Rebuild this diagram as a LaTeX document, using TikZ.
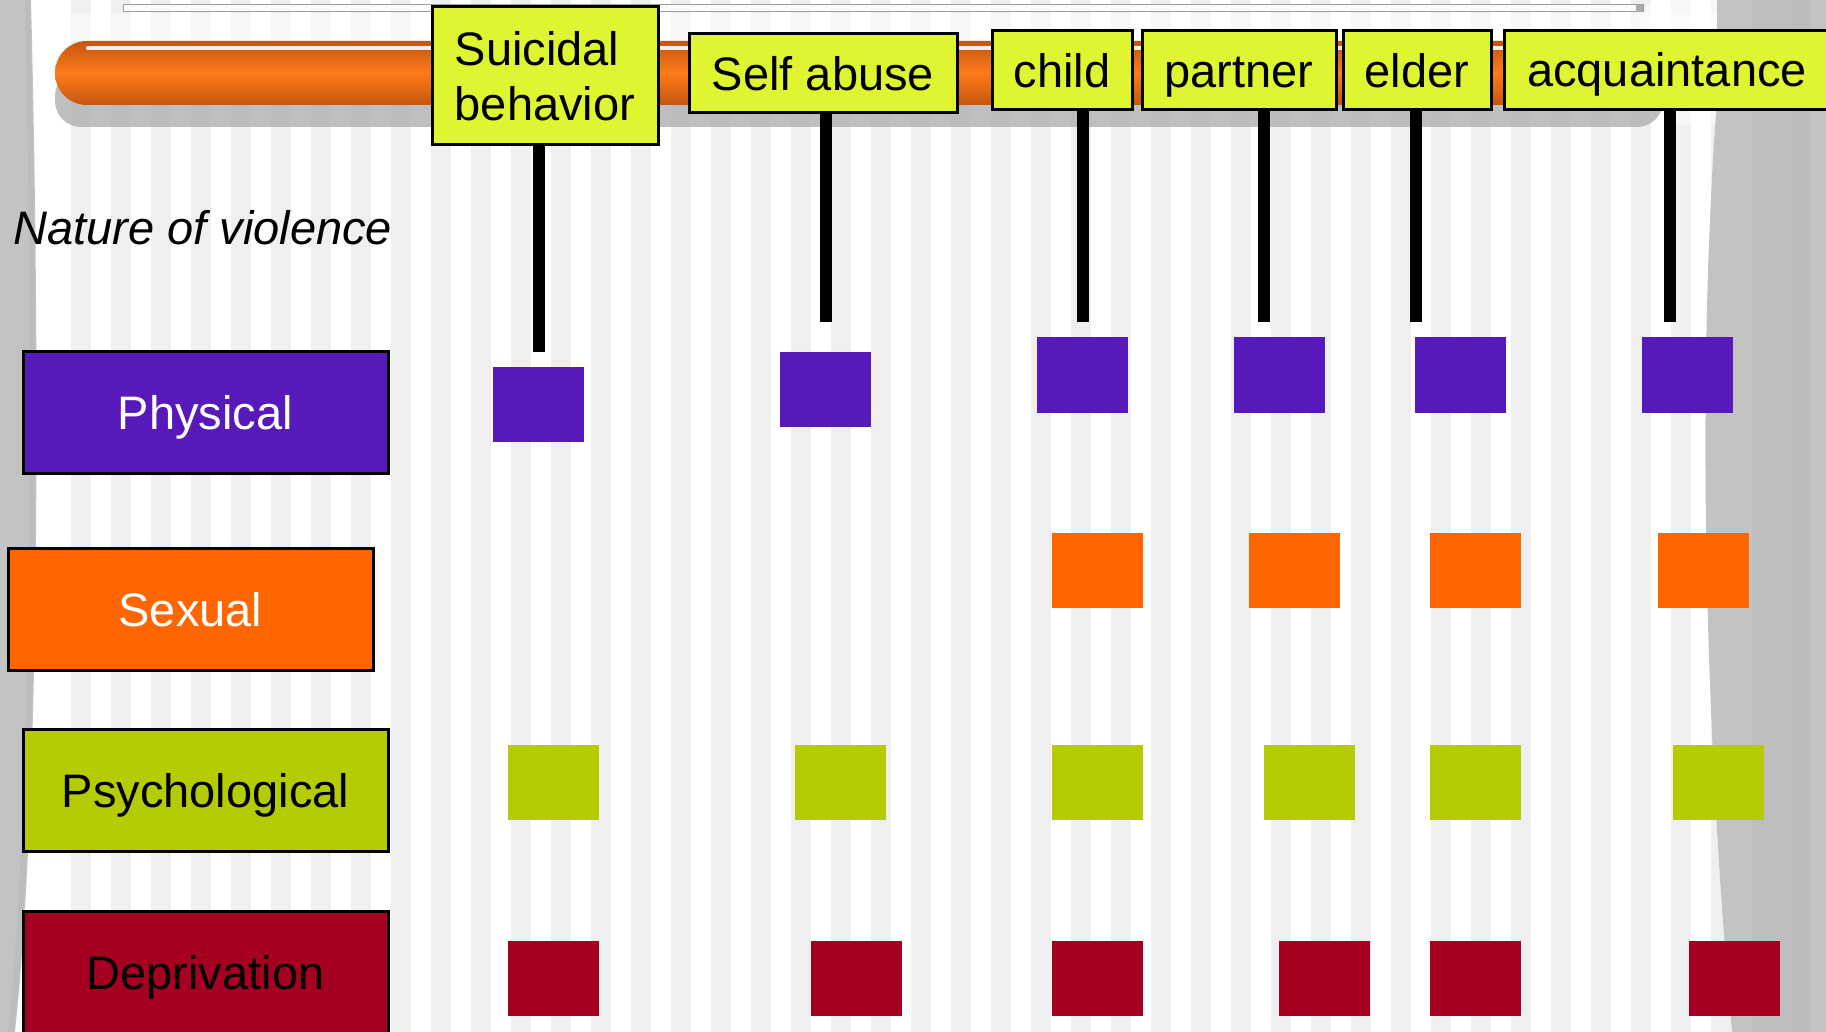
\documentclass[tikz,border=0pt]{standalone}
\usepackage{fontspec}
\setmainfont{Liberation Sans}
\definecolor{boxyellow}{HTML}{DFF531}
\definecolor{phys}{HTML}{5719BA}
\definecolor{sexc}{HTML}{FF6600}
\definecolor{psyc}{HTML}{B5CC05}
\definecolor{depc}{HTML}{A50021}
\definecolor{stripec}{HTML}{EFEFEF}
\definecolor{curtain}{HTML}{C3C3C3}
\definecolor{curtaindark}{HTML}{BCBCBC}
\definecolor{pipedark}{HTML}{C4560F}
\definecolor{pipemid}{HTML}{FF7A1A}
\definecolor{shadowc}{HTML}{B4B4B4}
\begin{document}
\begin{tikzpicture}[x=1pt,y=-1pt,
  lbl/.style={font=\fontsize{47}{55}\selectfont},
  topbox/.style={lbl, draw=black, line width=3pt, fill=boxyellow, inner sep=0pt, text height=34pt, text depth=0pt},
  catbox/.style={lbl, draw=black, line width=3pt, inner sep=0pt, minimum width=365pt, minimum height=122pt, text height=34pt, text depth=0pt},
  sq/.style={inner sep=0pt, minimum width=91pt, minimum height=75pt},
  conn/.style={line width=12pt, draw=black},
]
\useasboundingbox (0,0) rectangle (1826,1032);
\clip (0,0) rectangle (1826,1032);
% background
\fill[white] (0,0) rectangle (1826,1032);
\foreach \k in {0,...,42} \fill[stripec] ({71+40*\k},0) rectangle ({91+40*\k},1032);
% top glow
\fill[white, opacity=0.55] (40,13) rectangle (1717,41);
\fill[white, opacity=0.55, rounded corners=20pt] (1640,0) rectangle (1740,125);
% curtains
\fill[curtain] (0,0) -- (31,0) .. controls (40,350) and (40,800) .. (15,1032) -- (0,1032) -- cycle;
\fill[curtaindark] (30,0) .. controls (39,350) and (39,800) .. (14,1032) -- (8,1032) .. controls (33,800) and (33,350) .. (25,0) -- cycle;
\fill[curtain] (1717,0) -- (1717,100) .. controls (1698,350) and (1702,700) .. (1732,1032) -- (1826,1032) -- (1826,0) -- cycle;
\fill[curtaindark, opacity=0.6] (1752,0) rectangle (1792,1032);
\fill[curtaindark] (1792,0) rectangle (1810,1032);
% thin top bar
\draw[gray!75, line width=1pt, fill=white!97!gray] (123,5) rectangle (1643,12);
\fill[gray!65] (1636,5) rectangle (1643,12);
% pipe shadow and pipe
\fill[shadowc, opacity=0.85, rounded corners=26pt] (55,70) rectangle (1663,127);
\shade[top color=pipedark, bottom color=pipedark, middle color=pipemid, rounded corners=32pt] (55,41) rectangle (1720,105);
\draw[white, line width=4pt, line cap=round, opacity=0.9] (88,48.5) -- (1700,48.5);
% top boxes
\node[topbox, align=left, minimum width=226pt, minimum height=138pt, text height=, text depth=] (suic) at (545,76) {Suicidal\\behavior};
\node[topbox, minimum width=268pt, minimum height=79pt] (self) at (823,73.5) {Self abuse};
\node[topbox, minimum width=140pt, minimum height=79pt] (child) at (1062,70.5) {child};
\node[topbox, minimum width=194pt, minimum height=79pt] (part) at (1239,70.5) {partner};
\node[topbox, minimum width=148pt, minimum height=79pt] (elder) at (1417,70.5) {elder};
\node[topbox, minimum width=326pt, minimum height=79pt] (acq) at (1667,70) {acquaintance};
% connectors
\coordinate (e1) at (538.5,352);
\coordinate (e2) at (826,322);
\coordinate (e3) at (1083,322);
\coordinate (e4) at (1264,322);
\coordinate (e5) at (1416,322);
\coordinate (e6) at (1670,322);
\draw[conn] (e1 |- suic.south) -- (e1);
\draw[conn] (e2 |- self.south) -- (e2);
\draw[conn] (e3 |- child.south) -- (e3);
\draw[conn] (e4 |- part.south) -- (e4);
\draw[conn] (e5 |- elder.south) -- (e5);
\draw[conn] (e6 |- acq.south) -- (e6);
% title
\node[lbl, anchor=base west, inner sep=0pt] (nat) at (13,245) {\itshape Nature of violence};
% category boxes
\node[catbox, fill=phys, text=white] (physical) at (205.5,412.5) {Physical};
\node[catbox, fill=sexc, text=white] (sexual) at (190.5,609) {Sexual};
\node[catbox, fill=psyc, text=black] (psych) at (205.5,790.5) {Psychological};
\node[catbox, fill=depc, text=black] (depr) at (205.5,972) {Deprivation};
% physical squares
\node[sq, fill=phys] (p1) at (538,404.5) {};
\node[sq, fill=phys] (p2) at (825.5,389.5) {};
\node[sq, fill=phys] (p3) at (1082,375) {};
\node[sq, fill=phys] (p4) at (1279.5,375) {};
\node[sq, fill=phys] (p5) at (1460,375) {};
\node[sq, fill=phys] (p6) at (1687,375) {};
% sexual squares
\node[sq, fill=sexc] (s3) at (1097,570.5) {};
\node[sq, fill=sexc] (s4) at (1294,570.5) {};
\node[sq, fill=sexc] (s5) at (1475.5,570.5) {};
\node[sq, fill=sexc] (s6) at (1703,570.5) {};
% psychological squares
\node[sq, fill=psyc] (g1) at (553,782.5) {};
\node[sq, fill=psyc] (g2) at (840,782.5) {};
\node[sq, fill=psyc] (g3) at (1097,782.5) {};
\node[sq, fill=psyc] (g4) at (1309,782.5) {};
\node[sq, fill=psyc] (g5) at (1475.5,782.5) {};
\node[sq, fill=psyc] (g6) at (1718,782.5) {};
% deprivation squares
\node[sq, fill=depc] (d1) at (553,978.5) {};
\node[sq, fill=depc] (d2) at (856,978.5) {};
\node[sq, fill=depc] (d3) at (1097,978.5) {};
\node[sq, fill=depc] (d4) at (1324,978.5) {};
\node[sq, fill=depc] (d5) at (1475.5,978.5) {};
\node[sq, fill=depc] (d6) at (1734,978.5) {};
\end{tikzpicture}
\end{document}
